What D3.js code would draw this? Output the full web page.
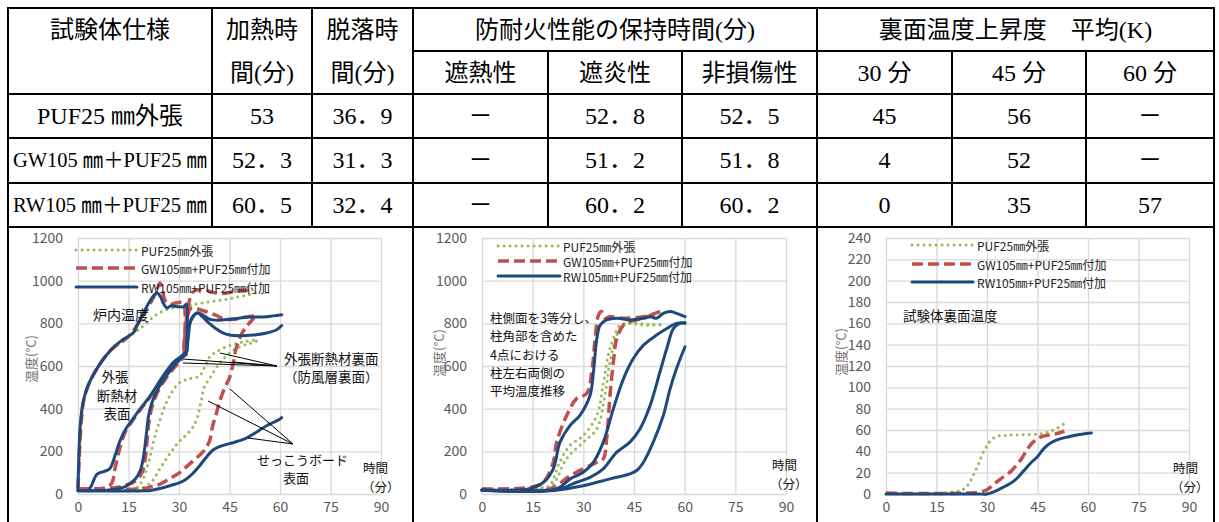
<!DOCTYPE html>
<html><head><meta charset="utf-8">
<script src="https://cdn.jsdelivr.net/npm/d3@7"></script>
<style>body{margin:0;background:#fff}svg{display:block}</style>
</head><body><svg id="c" width="1219" height="522"></svg>
<script>
// ---------- table data ----------
const specNames   = ["PUF25 ㎜外張", "GW105 ㎜＋PUF25 ㎜", "RW105 ㎜＋PUF25 ㎜"];
const heatTime    = [53, 52.3, 60.5];
const fallTime    = [36.9, 31.3, 32.4];
const insulHold   = [null, null, null];
const flameHold   = [52.8, 51.2, 60.2];
const loadHold    = [52.5, 51.8, 60.2];
const rise30      = [45, 4, 0];
const rise45      = [56, 52, 35];
const rise60      = [null, null, 57];

// ---------- chart data: [time(min), temperature(°C)] ----------
const xTicks = [0, 15, 30, 45, 60, 75, 90];
const yTicksA = [0, 200, 400, 600, 800, 1000, 1200];
const yTicksC = [0, 20, 40, 60, 80, 100, 120, 140, 160, 180, 200, 220, 240];
const seriesNames = ["PUF25㎜外張", "GW105㎜+PUF25㎜付加", "RW105㎜+PUF25㎜付加"];

// chart 1: furnace / insulation surfaces / gypsum board surface
const pufFurnace = [[0,20],[1,340],[2,455],[5,570],[10,675],[15,735],[18,770],[20,795],[22,825],[24,848],[26,862],[28,872],[30,878],[33,885],[36,893],[40,903],[44,912],[48,925],[51,935],[53,945]];
const pufBack    = [[0,20],[17,25],[19,60],[21,150],[22.5,250],[24,330],[26,420],[28,480],[30,520],[33,540],[36,552],[37.5,590],[39,640],[41,665],[44,690],[47,705],[50,715],[53,722]];
const pufGypsum  = [[0,20],[18,22],[20,35],[22,60],[24,110],[26,160],[28,205],[30,245],[32,275],[34,310],[35.5,360],[36.5,430],[37.5,500],[39,540],[41,590],[43,630],[45,660],[48,690],[51,705],[53,716]];
const gwFurnace  = [[0,25],[1,345],[2,460],[5,572],[10,678],[15,738],[17.5,790],[19,830],[21,880],[23,940],[24.3,989],[25,960],[26,905],[27.5,890],[29,895],[31.2,895],[31.4,650],[32,790],[33,900],[34,945],[36,958],[38,955],[40,945],[43,940],[46,948],[49,955],[52.3,955]];
const gwOuter    = [[0,25],[8,28],[10,50],[11,120],[12.5,220],[14,290],[16,340],[18.5,395],[21,445],[23.5,505],[26,565],[28.5,612],[31,640],[31.5,700],[32.5,830],[33.5,870],[35,870],[37,860],[39,850],[41,838],[43,822],[45,818],[48,822],[50,830],[52.3,835]];
const gwInner    = [[0,25],[10,28],[14,40],[17,60],[19,100],[20,170],[21,330],[22,410],[24,490],[26.5,550],[29,600],[31,630]];
const gwGypsum   = [[0,25],[19,25],[22,35],[24,44],[27,70],[30,98],[32,125],[34,153],[36,180],[37.5,205],[39,245],[40,320],[41,372],[42,430],[43.5,495],[45,545],[46,606],[47,684],[48.5,747],[50.5,794],[52.3,825]];
const rwFurnace  = [[0,20],[0.3,200],[0.7,330],[1.5,430],[3,510],[5,570],[7,620],[10,680],[13,720],[15,740],[16.8,762],[17.5,790],[18.5,820],[19.5,850],[21,895],[22.5,930],[23.5,942],[24.5,925],[25.3,895],[26.5,872],[27.5,882],[29.5,878],[31.5,878],[32.2,890],[32.3,665],[32.8,740],[33.5,810],[35.5,848],[37,830],[39,800],[41,775],[43,755],[45,745],[48,742],[52,745],[56,755],[59,770],[60.5,790]];
const rwOuter    = [[3,15],[4,40],[5.5,90],[6.5,100],[8,107],[9.5,120],[11,180],[12.5,250],[14,300],[16,345],[18.5,400],[21,450],[23.5,510],[26,570],[28.5,620],[31,650],[32.2,670],[32.5,720],[33,790],[34,830],[35.5,850],[37,840],[39,820],[42,815],[46,820],[50,828],[55,830],[58,835],[60.5,840]];
const rwInner    = [[0,15],[10,20],[14,35],[17,70],[18.5,110],[19.5,180],[20.3,280],[21,370],[22,430],[24,500],[26.5,560],[29,610],[31,640],[32.2,655]];
const rwGypsum   = [[0,15],[20,15],[22,18],[24,25],[26,33],[28,42],[30,52],[32,68],[34,95],[36,130],[38,170],[40,205],[42,222],[44,232],[46,240],[48,250],[50,262],[52,280],[54,300],[56,320],[58,335],[60,352],[60.5,358]];

// chart 2: column side temperatures
const pufColA = [[0,20],[18,30],[20,39],[23,149],[26,227],[30,274],[34,369],[36,525],[37.4,651],[38.9,729],[40.9,792],[43.8,800],[47.8,792],[52.7,792]];
const pufColB = [[0,20],[18,28],[21,45],[25,165],[30,243],[34,306],[36.4,463],[37.9,620],[39.9,745],[41.9,792],[45,800],[50,795],[53,795]];
const gwColA  = [[0,24],[14.2,31],[18.2,55],[21.1,149],[22.1,243],[25.1,369],[28,447],[31,471],[32.5,573],[33.5,729],[34.5,839],[35.4,855],[36.4,824],[37.9,831],[41.9,824],[47.8,831],[52.7,855]];
const gwColB  = [[0,24],[20,24],[26.1,86],[32,133],[34,149],[35.9,165],[36.9,259],[37.9,463],[38.9,620],[39.9,729],[41.9,792],[43.8,808],[47.8,824],[52.7,855]];
const rwColA  = [[0,19],[14,25],[18.2,55],[21.1,118],[23.1,243],[26.1,322],[29,369],[32,463],[33,573],[34,729],[35,792],[36.9,816],[39.9,824],[43.8,816],[47.8,824],[49.8,831],[51.7,824],[53.7,847],[55.7,855],[57.6,847],[60.1,831]];
const rwColB  = [[0,19],[22.1,24],[26.1,71],[30,102],[33,149],[35.9,243],[38.9,400],[41.9,541],[44.8,635],[47.8,698],[51.7,745],[54.7,776],[57.6,800],[60.1,803]];
const rwColC  = [[0,17],[22,20],[28,55],[32,78],[35.9,118],[39.9,196],[43.8,243],[46.8,306],[49.8,416],[52.7,573],[54.7,682],[56.7,776],[58.6,800],[60.1,800]];
const rwColD  = [[0,16],[22,18],[30,39],[37.9,71],[43.8,94],[45.8,110],[47.8,149],[50.7,243],[53.7,369],[55.7,494],[57.6,588],[60.1,690]];

// chart 3: unexposed-side temperature rise
const pufBackRise = [[0,0],[10,0],[15,0.5],[17,1],[20,2],[22,3],[24,7],[26,18],[27.5,28],[29,40],[30,45],[31,50],[33,54],[36,55],[40,55.5],[45,56],[47,57],[49,59],[51,62],[53,66]];
const gwBackRise  = [[0,1],[5,0.5],[15,0.5],[25,1],[28,2],[30,4],[32,9],[34,14],[37,21],[40,32],[42,42],[43.5,48],[45,52],[47,54.5],[50,56],[53,59]];
const rwBackRise  = [[0,0],[27,0],[30,0],[32,2],[34,5],[37,10],[39,15],[41,22],[43,29],[45,35],[47,43],[49,48],[51,51],[54,53.5],[57,55.5],[60,57],[61,57.3]];

// ---------- styles ----------
const GREEN = "#9BBB59", RED = "#C0504D", BLUE = "#1F497D";
const styles = [
  {stroke: GREEN, width: 3,   dash: "0.01 6", cap: "round"},
  {stroke: RED,   width: 3.5, dash: "11 5",   cap: "butt"},
  {stroke: BLUE,  width: 3,   dash: null,     cap: "round"}
];
const JP = "'Noto Sans CJK JP', 'Noto Sans', sans-serif";
const TABLE_FONT = "'Liberation Serif', 'Noto Sans CJK JP', serif";

const svg = d3.select("#c");
svg.append("rect").attr("width", 1219).attr("height", 522).attr("fill", "#fff");

// ---------- table ----------
const colX = [8, 212, 312, 413, 548, 682, 817, 952, 1086, 1214];
const rowY = [8, 51, 94, 138, 183, 227];
const tbl = svg.append("g").attr("font-family", TABLE_FONT).attr("font-size", 24).attr("fill", "#000");
const lines = tbl.append("g").attr("stroke", "#000").attr("stroke-width", 2);
const hl = (x1, x2, y) => lines.append("line").attr("x1", x1).attr("x2", x2).attr("y1", y).attr("y2", y);
const vl = (x, y1, y2) => lines.append("line").attr("x1", x).attr("x2", x).attr("y1", y1).attr("y2", y2);
hl(colX[0] - 1, colX[9] + 1, rowY[0]);
hl(colX[3], colX[9], rowY[1]);
[2, 3, 4, 5].forEach(i => hl(colX[0] - 1, colX[9] + 1, rowY[i]));
// panel separators run through the chart row
[0, 3, 6, 9].forEach(i => vl(colX[i], rowY[0], 522));
[1, 2].forEach(i => vl(colX[i], rowY[0], rowY[5]));
[4, 5, 7, 8].forEach(i => vl(colX[i], rowY[1], rowY[5]));

const cell = (c1, c2, r, txt, opts = {}) => {
  const t = tbl.append("text")
    .attr("x", (colX[c1] + colX[c2]) / 2)
    .attr("y", r)
    .attr("text-anchor", "middle")
    .attr("dominant-baseline", "central")
    .text(txt);
  if (opts.size) t.attr("font-size", opts.size);
  if (opts.fit) t.attr("textLength", opts.fit).attr("lengthAdjust", "spacingAndGlyphs");
  return t;
};
const fmt = v => v == null ? "－" : String(v).replace(".", "．");
const headY1 = 30, headY2 = 73;
cell(0, 1, headY1, "試験体仕様");
cell(1, 2, headY1, "加熱時"); cell(1, 2, headY2, "間(分)");
cell(2, 3, headY1, "脱落時"); cell(2, 3, headY2, "間(分)");
cell(3, 6, headY1, "防耐火性能の保持時間(分)");
cell(3, 4, headY2, "遮熱性"); cell(4, 5, headY2, "遮炎性"); cell(5, 6, headY2, "非損傷性");
cell(6, 9, headY1, "裏面温度上昇度\u3000平均(K)");
cell(6, 7, headY2, "30 分"); cell(7, 8, headY2, "45 分"); cell(8, 9, headY2, "60 分");
const dataY = [116, 160, 205];
specNames.forEach((n, i) => {
  cell(0, 1, dataY[i], n, i === 0 ? {} : {size: 21, fit: 194});
  cell(1, 2, dataY[i], fmt(heatTime[i]));
  cell(2, 3, dataY[i], fmt(fallTime[i]));
  cell(3, 4, dataY[i], fmt(insulHold[i]));
  cell(4, 5, dataY[i], fmt(flameHold[i]));
  cell(5, 6, dataY[i], fmt(loadHold[i]));
  cell(6, 7, dataY[i], fmt(rise30[i]));
  cell(7, 8, dataY[i], fmt(rise45[i]));
  cell(8, 9, dataY[i], fmt(rise60[i]));
});

// ---------- charts ----------
function drawChart(cfg) {
  const g = svg.append("g");
  const x = d3.scaleLinear().domain([0, 90]).range([cfg.left, cfg.right]);
  const y = d3.scaleLinear().domain([0, cfg.yMax]).range([494, 238]);
  const w = cfg.right - cfg.left, h = 494 - 238;

  // grid
  g.append("g").attr("transform", `translate(${cfg.left},0)`)
    .call(d3.axisLeft(y).tickValues(cfg.yTicks).tickSize(-w).tickFormat(""))
    .call(a => a.select(".domain").remove())
    .selectAll("line").attr("stroke", "#d9d9d9").attr("stroke-width", 1.3);
  g.append("g").attr("transform", `translate(0,494)`)
    .call(d3.axisBottom(x).tickValues(xTicks).tickSize(-h).tickFormat(""))
    .call(a => a.select(".domain").remove())
    .selectAll("line").attr("stroke", "#d9d9d9").attr("stroke-width", 1.3);

  // tick labels
  g.append("g").attr("transform", `translate(${cfg.left},0)`)
    .call(d3.axisLeft(y).tickValues(cfg.yTicks).tickSize(0).tickPadding(15).tickFormat(d3.format("d")))
    .call(a => a.select(".domain").remove())
    .selectAll("text").attr("fill", "#595959").attr("font-size", 14).attr("font-family", JP);
  g.append("g").attr("transform", `translate(0,494)`)
    .call(d3.axisBottom(x).tickValues(xTicks).tickSize(0).tickPadding(8))
    .call(a => a.select(".domain").remove())
    .selectAll("text").attr("fill", "#595959").attr("font-size", 14).attr("font-family", JP);

  // y title
  g.append("text").attr("transform", `translate(${cfg.yTitleX},${cfg.yTitleY}) rotate(-90)`)
    .attr("text-anchor", "middle").attr("dominant-baseline", "central")
    .attr("font-family", JP).attr("font-size", 13).attr("fill", "#767171").text("温度(°C)");

  // lines
  const line = d3.line().x(d => x(d[0])).y(d => y(d[1])).curve(d3.curveCatmullRom.alpha(0.5));
  cfg.series.forEach(s => {
    s.data.forEach(arr => {
      const st = styles[s.style];
      g.append("path").attr("d", line(arr)).attr("fill", "none")
        .attr("stroke", st.stroke).attr("stroke-width", st.width)
        .attr("stroke-dasharray", st.dash).attr("stroke-linecap", st.cap)
        .attr("stroke-linejoin", "round");
    });
  });

  // legend
  const lg = cfg.legend;
  seriesNames.forEach((n, i) => {
    const st = styles[i];
    g.append("line").attr("x1", lg.x0).attr("x2", lg.x1).attr("y1", lg.ys[i]).attr("y2", lg.ys[i])
      .attr("stroke", st.stroke).attr("stroke-width", st.width)
      .attr("stroke-dasharray", st.dash).attr("stroke-linecap", st.cap);
    g.append("text").attr("x", lg.tx).attr("y", lg.ys[i]).attr("dominant-baseline", "central")
      .attr("font-family", JP).attr("font-size", 12).attr("fill", "#222").text(n);
  });

  // notes
  (cfg.notes || []).forEach(n => {
    g.append("text").attr("x", n.x).attr("y", n.y).attr("text-anchor", n.anchor || "start")
      .attr("dominant-baseline", "central").attr("font-family", JP)
      .attr("font-size", n.size || 13.5).attr("fill", "#111").text(n.t);
  });
  (cfg.leaders || []).forEach(l => {
    g.append("line").attr("x1", l[0]).attr("y1", l[1]).attr("x2", l[2]).attr("y2", l[3])
      .attr("stroke", "#000").attr("stroke-width", 1);
  });
  return g;
}

drawChart({
  left: 78, right: 381, yMax: 1200, yTicks: yTicksA, yTitleX: 30, yTitleY: 359,
  series: [
    {style: 0, data: [pufFurnace, pufBack, pufGypsum]},
    {style: 1, data: [gwFurnace, gwOuter, gwInner, gwGypsum]},
    {style: 2, data: [rwFurnace, rwOuter, rwInner, rwGypsum]}
  ],
  legend: {x0: 76, x1: 137, tx: 141, ys: [250, 268, 287]},
  notes: [
    {t: "炉内温度", x: 93, y: 314, size: 14},
    {t: "外張", x: 115, y: 376, anchor: "middle"},
    {t: "断熱材", x: 117, y: 395, anchor: "middle"},
    {t: "表面", x: 117, y: 413, anchor: "middle"},
    {t: "外張断熱材裏面", x: 284, y: 358},
    {t: "（防風層裏面）", x: 284, y: 376},
    {t: "せっこうボード", x: 257, y: 459, size: 13},
    {t: "表面", x: 296, y: 477, anchor: "middle", size: 13},
    {t: "時間", x: 363, y: 467, size: 12.5},
    {t: "（分）", x: 362, y: 486, size: 12.5}
  ],
  leaders: [
    [277, 366, 183, 359], [277, 366, 183, 363], [277, 366, 220, 353], [277, 366, 233, 362],
    [293, 444, 230, 389], [293, 444, 208, 401], [293, 444, 248, 438]
  ]
});

drawChart({
  left: 482, right: 786, yMax: 1200, yTicks: yTicksA, yTitleX: 438, yTitleY: 353,
  series: [
    {style: 0, data: [pufColA, pufColB]},
    {style: 1, data: [gwColA, gwColB]},
    {style: 2, data: [rwColA, rwColB, rwColC, rwColD]}
  ],
  legend: {x0: 498, x1: 560, tx: 563, ys: [246, 261, 276]},
  notes: [
    {t: "柱側面を3等分し、", x: 490, y: 317, size: 12.5},
    {t: "柱角部を含めた", x: 490, y: 335, size: 12.5},
    {t: "4点における", x: 490, y: 354, size: 12.5},
    {t: "柱左右両側の", x: 490, y: 372, size: 12.5},
    {t: "平均温度推移", x: 490, y: 390, size: 12.5},
    {t: "時間", x: 772, y: 464, size: 12.5},
    {t: "（分）", x: 770, y: 483, size: 12.5}
  ]
});

drawChart({
  left: 886, right: 1189, yMax: 240, yTicks: yTicksC, yTitleX: 840, yTitleY: 352,
  series: [
    {style: 0, data: [pufBackRise]},
    {style: 1, data: [gwBackRise]},
    {style: 2, data: [rwBackRise]}
  ],
  legend: {x0: 912, x1: 973, tx: 977, ys: [245, 264, 282]},
  notes: [
    {t: "試験体裏面温度", x: 903, y: 315, size: 13.5},
    {t: "時間", x: 1173, y: 467, size: 12.5},
    {t: "（分）", x: 1171, y: 486, size: 12.5}
  ]
});
</script></body></html>
